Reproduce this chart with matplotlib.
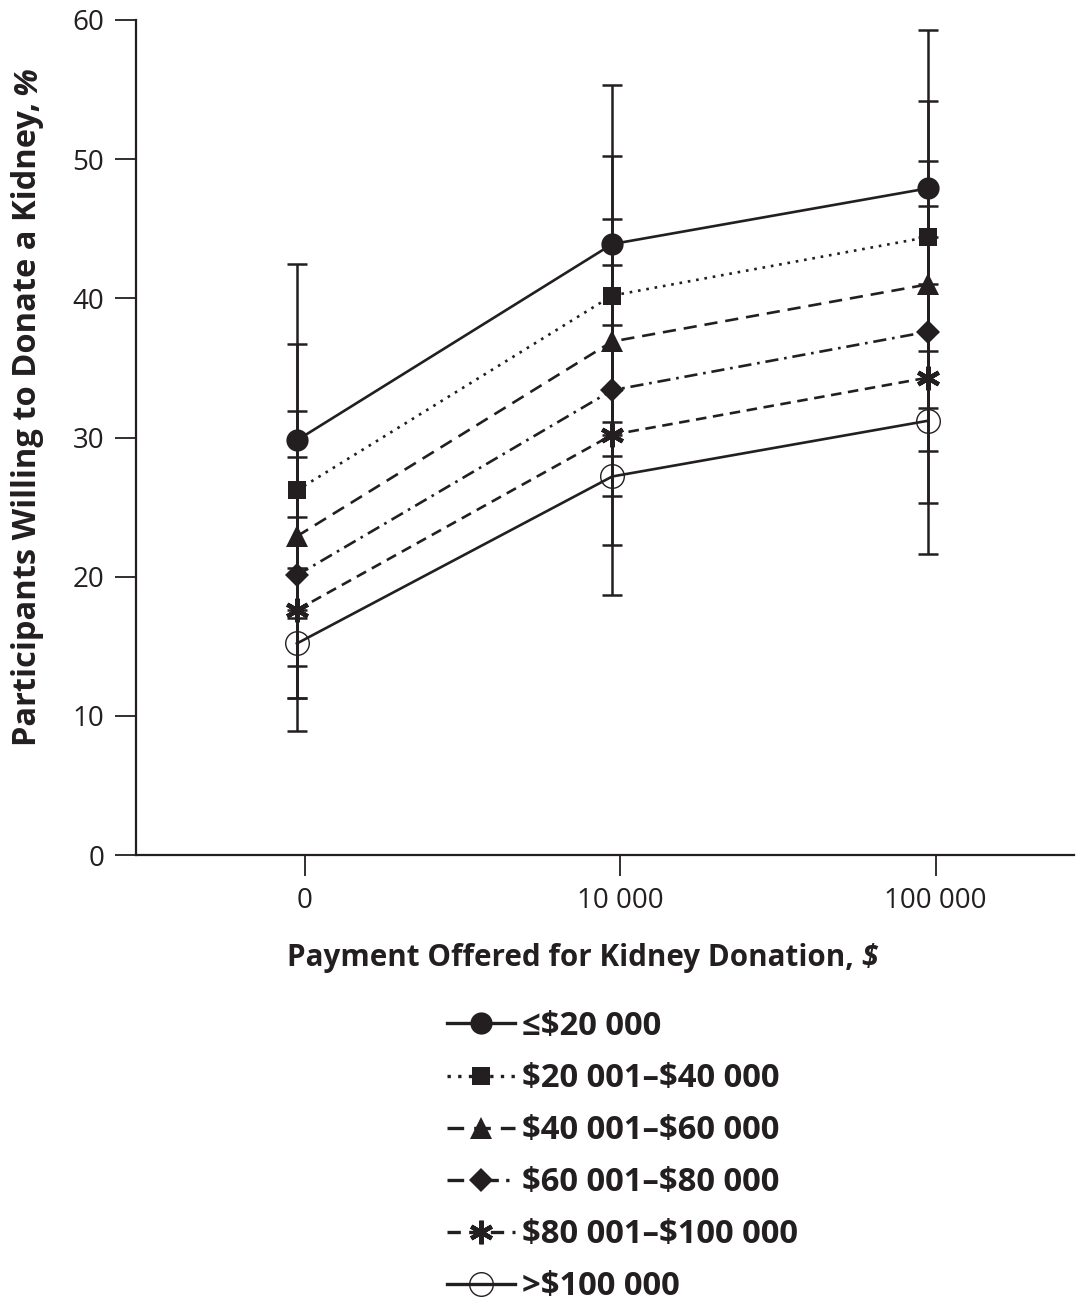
import matplotlib
matplotlib.use("Agg")
import matplotlib.pyplot as plt
import numpy as np

# payment categories and income groups
payments = ["0", "10 000", "100 000"]
groups = ["\u2264\\$20 000", "\\$20 001\u2013\\$40 000", "\\$40 001\u2013\\$60 000",
          "\\$60 001\u2013\\$80 000", "\\$80 001\u2013\\$100 000", ">\\$100 000"]

# percent willing to donate, one list per income group (0, 10 000, 100 000)
inc_20k = [29.8, 43.9, 47.9]
inc_40k = [26.2, 40.2, 44.4]
inc_60k = [22.9, 36.9, 41.0]
inc_80k = [20.1, 33.4, 37.6]
inc_100k = [17.6, 30.2, 34.3]
inc_over = [15.2, 27.2, 31.2]

# confidence limits
lo_20k = [17.6, 31.1, 37.6]
hi_20k = [42.5, 55.3, 59.3]
lo_40k = [17.0, 30.2, 36.2]
hi_40k = [36.7, 50.2, 54.2]
lo_60k = [13.6, 28.7, 32.1]
hi_60k = [31.9, 45.7, 49.9]
lo_80k = [11.3, 25.8, 29.0]
hi_80k = [28.6, 42.4, 46.6]
lo_100k = [11.3, 22.3, 25.3]
hi_100k = [24.3, 38.1, 44.4]
lo_over = [8.9, 18.7, 21.6]
hi_over = [20.6, 33.4, 41.0]

values = [inc_20k, inc_40k, inc_60k, inc_80k, inc_100k, inc_over]
lows = [lo_20k, lo_40k, lo_60k, lo_80k, lo_100k, lo_over]
highs = [hi_20k, hi_40k, hi_60k, hi_80k, hi_100k, hi_over]

ink = "#231f20"
styles = [
    dict(ls="-", marker="o", ms=16, mfc=ink, mew=0),
    dict(ls=(0, (1, 2.2)), marker="s", ms=13, mfc=ink, mew=0),
    dict(ls=(0, (5, 3)), marker="^", ms=16, mfc=ink, mew=0),
    dict(ls=(0, (5, 2.2, 1, 2.2)), marker="D", ms=12, mfc=ink, mew=0),
    dict(ls=(0, (4, 2.5)), marker=(6, 2, 0), ms=17, mfc=ink, mew=3.2),
    dict(ls="-", marker="o", ms=17, mfc="none", mew=1.0),
]

plt.rcParams["font.family"] = ["Open Sans", "DejaVu Sans"]

fig = plt.figure(figsize=(10.76, 13.07), dpi=100)
ax = fig.add_axes([0.1264, 0.3458, 0.872, 0.6389])

xs = np.arange(len(payments)) - 0.025

handles = []
for v, lo, hi, st in zip(values, lows, highs, styles):
    v = np.array(v)
    err = [v - np.array(lo), np.array(hi) - v]
    ax.errorbar(xs, v, yerr=err, fmt="none", ecolor=ink, elinewidth=1.8,
                capsize=7, capthick=1.8, zorder=1)
    line, = ax.plot(xs, v, color=ink, lw=1.9, marker=st["marker"],
                    ls=st["ls"], ms=st["ms"], mfc=st["mfc"], mec=ink,
                    mew=st["mew"], zorder=3)
    handles.append(line)

ax.set_xlim(-0.535, 2.44)
ax.set_ylim(0, 60)
ax.set_xticks(np.arange(len(payments)))
ax.set_xticklabels(payments)
ax.set_yticks(range(0, 61, 10))
for s in ["top", "right"]:
    ax.spines[s].set_visible(False)
for s in ["left", "bottom"]:
    ax.spines[s].set_linewidth(1.6)
    ax.spines[s].set_color(ink)
ax.tick_params(length=15, width=1.3, color=ink, labelcolor=ink,
               labelsize=20, pad=8)

# axis titles, the unit sign in italic
xl = fig.text(287 / 1076, 1 - 966 / 1307, "Payment Offered for Kidney Donation,",
              fontsize=21.3, fontweight="bold", color=ink, ha="left",
              va="baseline")
ax.annotate("$", xy=(1, 0), xycoords=xl, xytext=(5, 0),
            textcoords="offset points", fontsize=21.3, fontweight="bold",
            fontstyle="italic", color=ink, ha="left", va="bottom")
yl = fig.text(28 / 1076, 1 - 746 / 1307, "Participants Willing to Donate a Kidney,",
              fontsize=23.5, fontweight="bold", color=ink, rotation=90,
              ha="center", va="bottom")
ax.annotate("%", xy=(0, 1), xycoords=yl, xytext=(0, 5),
            textcoords="offset points", fontsize=23.5, fontweight="bold",
            fontstyle="italic", color=ink, rotation=90, ha="left",
            va="bottom")

leg = fig.legend(handles, groups, loc="upper left",
                 bbox_to_anchor=(447 / 1076, 1 - 1010 / 1307), frameon=False,
                 borderpad=0, borderaxespad=0, handlelength=2.07,
                 handletextpad=0.22, labelspacing=0.58,
                 prop=dict(size=23.7, weight="bold"), labelcolor=ink)
for h in leg.legend_handles:
    h.set_linewidth(2.4)

fig.savefig("out.png", dpi=100)
